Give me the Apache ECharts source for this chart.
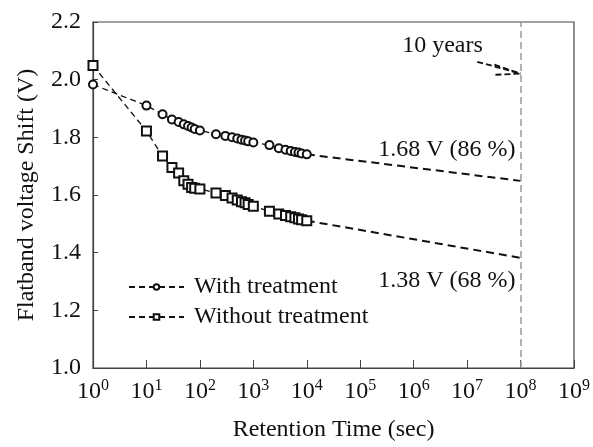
<!DOCTYPE html>
<html>
<head>
<meta charset="utf-8">
<script src="https://cdn.jsdelivr.net/npm/echarts@6/dist/echarts.min.js"></script>
<style>
  html, body { margin: 0; padding: 0; background: #fff; }
  #chart { width: 593px; height: 447px; }
</style>
</head>
<body>
<div id="chart"></div>
<script>
// retention time (sec) and flatband shift (V)
const timeWith = [1, 10, 20, 30, 40, 50, 60, 70, 80, 100, 200, 300, 400, 500, 600, 700, 800, 1000, 2000, 3000, 4000, 5000, 6000, 7000, 8000, 10000]
const vfbWith = [1.983, 1.91, 1.88, 1.862, 1.853, 1.845, 1.839, 1.834, 1.829, 1.824, 1.811, 1.805, 1.8, 1.796, 1.792, 1.789, 1.786, 1.782, 1.773, 1.762, 1.757, 1.753, 1.749, 1.747, 1.744, 1.741]
const timeWithout = [1, 10, 20, 30, 40, 50, 60, 70, 80, 100, 200, 300, 400, 500, 600, 700, 800, 1000, 2000, 3000, 4000, 5000, 6000, 7000, 8000, 10000]
const vfbWithout = [2.049, 1.822, 1.735, 1.695, 1.676, 1.649, 1.637, 1.626, 1.623, 1.621, 1.607, 1.598, 1.59, 1.583, 1.577, 1.573, 1.567, 1.561, 1.544, 1.534, 1.529, 1.525, 1.521, 1.517, 1.514, 1.511]

// extrapolation to 10 years
const extraTime = [10000, 1e8]
const extraWith = [1.741, 1.649]
const extraWithout = [1.511, 1.382]

const yTicks = { min: 1.0, max: 2.2, step: 0.2 }
const labelWith = '1.68 V (86 %)'
const labelWithout = '1.38 V (68 %)'
const tenYears = 1e8

const serif = '"Liberation Serif", "DejaVu Serif", serif'
const fs = 24
const pairs = (xs, ys) => xs.map((x, i) => [x, ys[i]])

const chart = echarts.init(document.getElementById('chart'))

const dashed = { color: '#111', width: 1.3, type: [6, 4] }

chart.setOption({
  animation: false,
  grid: { left: 93, right: 16, top: 22, bottom: 77, show: true, borderColor: '#444', borderWidth: 1.2 },
  legend: {
    data: ['With treatment', 'Without treatment'],
    orient: 'vertical',
    left: 123,
    top: 270,
    itemWidth: 55,
    itemHeight: 7,
    itemGap: 6,
    textStyle: { fontFamily: serif, fontSize: fs, color: '#111', padding: [0, 0, 0, 5] }
  },
  xAxis: {
    type: 'log',
    logBase: 10,
    min: 1,
    max: 1e9,
    name: 'Retention Time (sec)',
    nameLocation: 'middle',
    nameGap: 50,
    nameTextStyle: { fontFamily: serif, fontSize: fs, color: '#111' },
    axisLine: { lineStyle: { color: '#444', width: 1.2 } },
    axisTick: { inside: true, length: 8, lineStyle: { color: '#444' } },
    minorTick: { show: false },
    splitLine: { show: false },
    axisLabel: {
      margin: 10,
      formatter: v => '{b|10}{s|' + Math.round(Math.log10(v)) + '}',
      rich: {
        b: { fontFamily: serif, fontSize: fs, color: '#111' },
        s: { fontFamily: serif, fontSize: 16, color: '#111', verticalAlign: 'bottom', padding: [0, 0, 11, 0] }
      }
    }
  },
  yAxis: {
    type: 'value',
    min: yTicks.min,
    max: yTicks.max,
    interval: yTicks.step,
    name: 'Flatband voltage Shift (V)',
    nameLocation: 'middle',
    nameGap: 54,
    nameTextStyle: { fontFamily: serif, fontSize: fs, color: '#111' },
    axisLine: { show: true, lineStyle: { color: '#444', width: 1.2 } },
    axisTick: { show: true, inside: true, length: 5, lineStyle: { color: '#444' } },
    splitLine: { show: false },
    axisLabel: {
      margin: 12,
      fontFamily: serif,
      fontSize: fs,
      color: '#111',
      formatter: v => v.toFixed(1)
    }
  },
  series: [
    {
      name: 'With treatment',
      type: 'line',
      data: pairs(timeWith, vfbWith),
      symbol: 'emptyCircle',
      symbolSize: 8,
      lineStyle: dashed,
      itemStyle: { color: '#111', borderWidth: 1.1 },
      z: 3
    },
    {
      name: 'Without treatment',
      type: 'line',
      data: pairs(timeWithout, vfbWithout),
      symbol: 'emptyRect',
      symbolSize: 9,
      lineStyle: dashed,
      itemStyle: { color: '#111', borderWidth: 1.1 },
      z: 3
    },
    {
      name: 'extra-with',
      type: 'line',
      data: pairs(extraTime, extraWith),
      symbol: 'none',
      lineStyle: { color: '#111', width: 2, type: [8, 5] },
      markPoint: {
        symbol: 'circle',
        symbolSize: 0,
        data: [{ coord: [tenYears, 1.758] }],
        label: { show: true, position: 'left', distance: 5, formatter: labelWith, fontFamily: serif, fontSize: fs, color: '#111' }
      },
      markLine: {
        silent: true,
        symbol: 'none',
        label: { show: false },
        lineStyle: { color: '#999', width: 1.5, type: [7, 4] },
        data: [{ xAxis: tenYears }]
      }
    },
    {
      name: 'extra-without',
      type: 'line',
      data: pairs(extraTime, extraWithout),
      symbol: 'none',
      lineStyle: { color: '#111', width: 2, type: [8, 5] },
      markPoint: {
        symbol: 'circle',
        symbolSize: 0,
        data: [
          { coord: [tenYears, 1.303], label: { formatter: labelWithout } },
          { coord: [Math.pow(10, 6.54), 2.117], label: { position: 'inside', distance: 0, formatter: '10 years' } }
        ],
        label: { show: true, position: 'left', distance: 5, fontFamily: serif, fontSize: fs, color: '#111' }
      },
      markLine: {
        silent: true,
        symbol: 'none',
        label: { show: false },
        lineStyle: { color: '#111', width: 1.8, type: [6, 3] },
        data: [
          [{ coord: [Math.pow(10, 7.19), 2.062] }, { coord: [tenYears, 2.021] }],
          [{ coord: [Math.pow(10, 7.51), 2.052] }, { coord: [tenYears, 2.021] }],
          [{ coord: [Math.pow(10, 7.53), 2.017] }, { coord: [tenYears, 2.021] }]
        ]
      }
    }
  ]
})
</script>
</body>
</html>
